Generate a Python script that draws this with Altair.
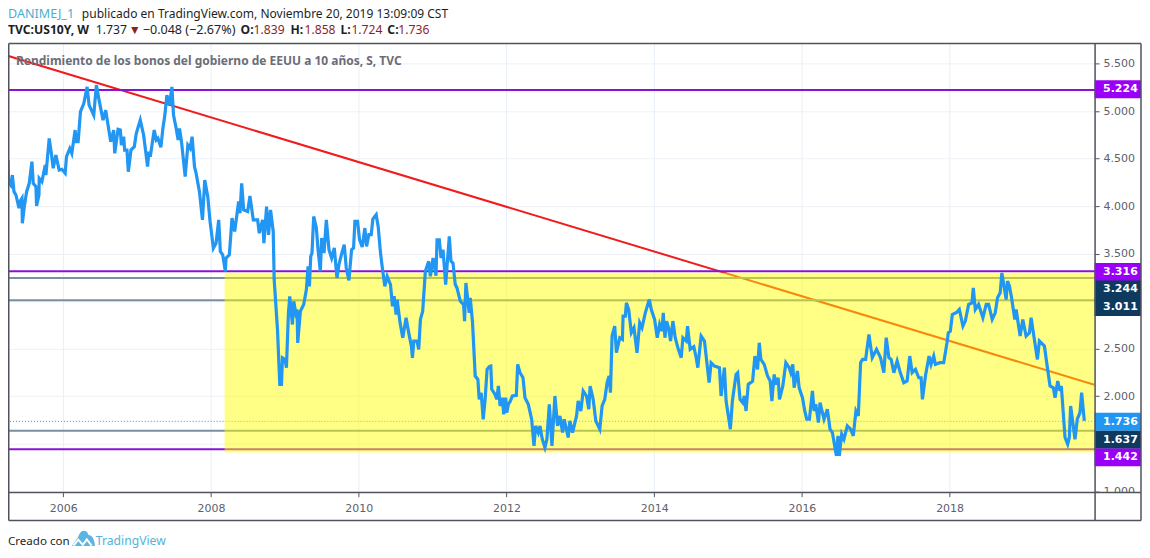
import altair as alt
import pandas as pd

# ---- series: decimal year / yield ----
years_a = [2005.252,2005.254,2005.256,2005.287,2005.310,2005.332,2005.359,2005.400,2005.413,2005.440,2005.445,2005.472,2005.503,2005.539,2005.575,2005.593,2005.629,2005.638,2005.670,2005.674,2005.710,2005.755,2005.764,2005.809,2005.841,2005.863,2005.899,2005.944,2005.980,2006.025,2006.043,2006.088,2006.115,2006.160,2006.178,2006.201,2006.232,2006.277,2006.322,2006.349,2006.412,2006.448,2006.484,2006.538,2006.574,2006.606,2006.642,2006.682,2006.696,2006.741,2006.772,2006.786,2006.817,2006.831,2006.862,2006.880,2006.916,2006.961,2006.988,2007.042,2007.087,2007.141,2007.159,2007.177,2007.231,2007.258,2007.281,2007.321,2007.348,2007.375,2007.402,2007.438,2007.470,2007.492,2007.528,2007.555,2007.573,2007.600,2007.650,2007.686,2007.717,2007.744,2007.776,2007.798,2007.843,2007.884,2007.915,2007.956,2007.987,2008.032,2008.068,2008.104,2008.126,2008.158,2008.194,2008.203,2008.248,2008.284,2008.320,2008.338,2008.374,2008.392,2008.415,2008.442,2008.496,2008.527,2008.572,2008.631,2008.653,2008.698,2008.716,2008.752,2008.779,2008.806,2008.842]
yields_a = [4.486,4.416,4.258,4.223,4.328,4.153,4.118,3.979,4.049,4.083,3.821,3.996,4.153,4.241,4.469,4.241,4.206,4.003,4.118,4.293,4.258,4.433,4.328,4.713,4.538,4.399,4.538,4.381,4.388,4.346,4.521,4.608,4.556,4.801,4.679,4.679,4.994,5.081,5.256,5.064,4.959,5.274,5.116,4.906,5.011,4.853,4.679,4.801,4.556,4.808,4.801,4.643,4.731,4.591,4.591,4.363,4.591,4.626,4.766,4.906,4.749,4.416,4.574,4.521,4.801,4.696,4.714,4.619,4.819,4.959,5.169,5.064,5.256,4.959,4.819,4.696,4.819,4.679,4.311,4.644,4.609,4.731,4.416,4.346,4.153,3.856,4.276,4.101,3.839,3.559,3.611,3.856,3.524,3.489,3.314,3.454,3.489,3.874,3.734,3.839,4.049,3.926,4.241,3.961,3.944,4.108,3.856,3.856,3.716,3.856,3.611,3.996,3.699,3.961,3.734]
years_b = [2008.855,2008.900,2008.931,2008.954,2008.967,2009.003,2009.021,2009.048,2009.066,2009.102,2009.120,2009.147,2009.165,2009.174,2009.210,2009.255,2009.291,2009.314,2009.332,2009.350,2009.367,2009.390,2009.426,2009.449,2009.480,2009.498,2009.530,2009.561,2009.597,2009.633,2009.669,2009.705,2009.732,2009.777,2009.804,2009.831,2009.867,2009.903,2009.930,2009.948,2009.984,2010.011,2010.047,2010.083,2010.106,2010.137,2010.169,2010.191,2010.236,2010.263,2010.295,2010.317,2010.353,2010.385,2010.430,2010.457,2010.479,2010.506,2010.520,2010.560,2010.596,2010.641,2010.677,2010.713,2010.727,2010.745,2010.790,2010.812,2010.835,2010.866,2010.902,2010.947,2010.970,2011.006,2011.046,2011.060,2011.091,2011.114,2011.141,2011.177,2011.226,2011.249,2011.276,2011.307,2011.330,2011.375,2011.420,2011.433,2011.451,2011.496,2011.510,2011.541,2011.577,2011.613,2011.631,2011.658,2011.685]
yields_b = [3.227,2.702,2.125,2.125,2.405,2.387,2.300,2.877,3.052,2.755,3.000,2.877,2.912,2.562,2.895,2.965,3.122,3.367,3.157,3.472,3.507,3.892,3.770,3.542,3.315,3.665,3.507,3.857,3.542,3.455,3.560,3.245,3.385,3.525,3.595,3.350,3.220,3.542,3.560,3.840,3.840,3.647,3.570,3.770,3.577,3.700,3.700,3.864,3.910,3.787,3.507,3.367,3.157,3.262,3.175,2.947,3.052,2.860,3.017,2.772,2.615,2.825,2.667,2.527,2.405,2.580,2.580,2.492,2.807,2.895,3.315,3.420,3.262,3.455,3.269,3.647,3.647,3.455,3.542,3.175,3.682,3.420,3.402,3.175,3.140,3.000,2.965,2.790,3.192,2.877,3.035,2.772,2.212,2.177,1.967,2.037,1.757]
years_c = [2011.711,2011.738,2011.765,2011.788,2011.801,2011.846,2011.869,2011.891,2011.914,2011.945,2011.963,2011.990,2012.004,2012.026,2012.053,2012.080,2012.134,2012.152,2012.184,2012.224,2012.251,2012.296,2012.341,2012.373,2012.395,2012.431,2012.454,2012.485,2012.521,2012.548,2012.580,2012.616,2012.656,2012.692,2012.724,2012.760,2012.782,2012.836,2012.859,2012.895,2012.949,2012.971,2013.007,2013.039,2013.084,2013.115,2013.133,2013.174,2013.210,2013.264,2013.295,2013.331,2013.363,2013.390,2013.408,2013.430,2013.466,2013.489,2013.534,2013.570,2013.579,2013.610,2013.624,2013.655,2013.691,2013.727,2013.768,2013.804,2013.835,2013.880,2013.934,2013.961,2014.006,2014.042,2014.074,2014.105,2014.123,2014.146,2014.168,2014.195,2014.222,2014.254,2014.285,2014.321,2014.366,2014.389,2014.434,2014.452,2014.488,2014.537,2014.569,2014.591,2014.636,2014.681,2014.744,2014.771,2014.816,2014.884,2014.906,2014.951,2014.974,2015.032,2015.059,2015.109,2015.131,2015.163,2015.199,2015.221,2015.244]
yields_c = [1.968,2.283,2.311,2.318,2.073,2.020,1.968,2.108,1.898,1.985,1.810,1.985,1.828,1.915,1.950,2.003,2.010,2.335,2.248,2.195,1.985,1.915,1.758,1.478,1.688,1.618,1.688,1.548,1.460,1.548,1.915,1.478,2.003,1.688,1.793,1.618,1.758,1.566,1.740,1.618,1.793,1.950,1.845,2.056,2.003,1.863,2.108,1.968,1.740,1.653,1.898,1.968,2.143,2.213,2.038,2.633,2.738,2.458,2.616,2.598,2.843,2.843,2.983,2.913,2.668,2.721,2.458,2.773,2.721,2.878,3.018,2.913,2.808,2.616,2.756,2.686,2.878,2.616,2.791,2.721,2.581,2.791,2.616,2.511,2.406,2.616,2.581,2.738,2.493,2.521,2.406,2.301,2.633,2.581,2.143,2.353,2.318,2.301,2.003,2.301,1.950,1.653,1.950,2.230,2.248,1.968,1.933,2.003,1.845]
years_d = [2015.274,2015.333,2015.364,2015.400,2015.423,2015.445,2015.490,2015.535,2015.571,2015.594,2015.625,2015.648,2015.679,2015.697,2015.742,2015.783,2015.828,2015.850,2015.877,2015.895,2015.940,2015.963,2016.008,2016.039,2016.066,2016.102,2016.143,2016.165,2016.188,2016.224,2016.246,2016.300,2016.345,2016.381,2016.413,2016.467,2016.489,2016.507,2016.539,2016.570,2016.615,2016.660,2016.696,2016.732,2016.764,2016.795,2016.822,2016.863,2016.908,2016.953,2017.011,2017.065,2017.110,2017.142,2017.178,2017.209,2017.245,2017.290,2017.326,2017.380,2017.425,2017.461,2017.493,2017.538,2017.583,2017.614,2017.632,2017.673,2017.722,2017.749,2017.785,2017.808,2017.866,2017.920,2017.965,2017.983,2018.010,2018.037,2018.100,2018.132,2018.181,2018.213,2018.258,2018.303,2018.321,2018.348,2018.393,2018.451,2018.496,2018.528,2018.577,2018.618,2018.649,2018.685,2018.708,2018.730,2018.766,2018.784,2018.811,2018.843,2018.883,2018.901,2018.955,2018.991,2019.036,2019.081,2019.104,2019.158,2019.189,2019.216,2019.284,2019.315,2019.360,2019.405,2019.428,2019.464,2019.495,2019.513,2019.563,2019.599,2019.621,2019.639,2019.666,2019.698,2019.729,2019.765,2019.788,2019.824]
yields_d = [2.125,2.160,2.423,2.283,2.563,2.388,2.335,2.213,2.160,1.950,2.230,2.125,2.195,1.968,2.108,2.353,2.301,2.248,2.335,2.090,2.266,2.090,1.985,1.845,1.758,1.758,2.056,1.845,1.915,1.723,1.933,1.758,1.863,1.653,1.618,1.373,1.583,1.373,1.601,1.548,1.688,1.653,1.583,1.845,1.793,2.353,2.388,2.388,2.651,2.406,2.493,2.406,2.248,2.616,2.406,2.388,2.248,2.371,2.266,2.143,2.160,2.423,2.248,2.283,2.195,2.195,1.968,2.213,2.423,2.335,2.423,2.335,2.353,2.353,2.563,2.668,2.686,2.860,2.885,2.913,2.738,2.791,2.966,2.983,3.141,2.913,2.966,2.826,2.966,2.966,2.808,2.878,3.036,3.088,3.298,3.193,3.018,3.211,3.158,3.018,2.808,2.913,2.633,2.808,2.633,2.668,2.826,2.546,2.388,2.581,2.528,2.353,2.108,2.090,1.985,2.160,2.056,2.108,1.566,1.496,1.566,1.898,1.740,1.548,1.758,1.828,2.038,1.740]

# ---- drawn levels ----
trend_years = [2005.23, 2019.96]
trend_yields = [5.587, 2.121]
purple_levels = [5.224, 3.316, 1.442]
gray_levels = [3.244, 3.011, 1.637]
last_price = [1.736]
box_years = [2008.184, 2019.97]
box_yields = [3.301, 1.409]
tag_labels = ["5.224", "3.316", "3.244", "3.011", "1.736", "1.637", "1.442"]
tag_mids = [5.23, 3.308, 3.124, 2.940, 1.732, 1.543, 1.357]
tag_kinds = ["p", "p", "n", "n", "b", "n", "p"]
x_ticks = [2006, 2008, 2010, 2012, 2014, 2016, 2018]
y_ticks = [1.0, 1.5, 2.0, 2.5, 3.0, 3.5, 4.0, 4.5, 5.0, 5.5]

PLOT_W, PLOT_H = 1089, 450
FULL_W = 1135       # right edge of outer frame, relative to plot left
FOOT_Y = 478        # bottom of outer frame, relative to plot top
AXIS_FONT = "DejaVu Sans"
HEAD_FONT = "Noto Sans"
FRAME = "#50535e"

x_scale = alt.Scale(domain=[2005.251, 2019.97], nice=False, zero=False)
y_scale = alt.Scale(domain=[0.986, 5.713], nice=False, zero=False)

x_axis = alt.Axis(
    values=x_ticks, format="d", grid=True, gridColor="#e8eff7", gridWidth=1, domain=False,
    tickColor=FRAME, tickSize=4, labelColor="#5d606b", labelFont=AXIS_FONT, labelFontSize=11,
    labelPadding=6, labelOverlap=False, labelFlush=False)
# the 1.500 and 3.000 scale labels sit behind price tags in the reference
y_axis = alt.Axis(
    orient="right", values=y_ticks, grid=True, gridColor="#edf1f6", gridWidth=1,
    labelExpr="datum.value == 1.5 || datum.value == 3 ? '' : format(datum.value, '.3f')",
    domain=False, tickColor=FRAME, tickSize=4, labelColor="#5d606b", labelFont=AXIS_FONT,
    labelFontSize=11, labelPadding=4, labelOverlap=False, labelFlush=False)

def X(field="x"):
    return alt.X(f"{field}:Q", scale=x_scale, axis=x_axis, title=None)

def Y(field="y"):
    return alt.Y(f"{field}:Q", scale=y_scale, axis=y_axis, title=None)

one = pd.DataFrame({"a": [0]})

trend = alt.Chart(pd.DataFrame({"x": trend_years, "y": trend_yields})).mark_line(
    color="#f01c1c", strokeWidth=2, clip=True).encode(x=X(), y=Y())

purple = alt.Chart(pd.DataFrame({"y": purple_levels})).mark_rule(color="#8a12d6", strokeWidth=2).encode(y=Y())
grays = alt.Chart(pd.DataFrame({"y": gray_levels})).mark_rule(color="#7b8f9e", strokeWidth=2).encode(y=Y())
dotted = alt.Chart(pd.DataFrame({"y": last_price})).mark_rule(
    color="#2196f3", strokeWidth=1, strokeDash=[1, 2]).encode(y=Y())

box = alt.Chart(pd.DataFrame({"x": box_years[:1], "x2": box_years[1:], "y": box_yields[:1], "y2": box_yields[1:]})).mark_rect(
    color="#ffff00", opacity=0.48).encode(x=X(), x2="x2:Q", y=Y(), y2="y2:Q")

series = pd.DataFrame({"x": years_a + years_b + years_c + years_d,
                       "y": yields_a + yields_b + yields_c + yields_d})
line = alt.Chart(series).mark_line(color="#2196f3", strokeWidth=3.2, clip=True, strokeJoin="miter").encode(
    x=X(), y=Y())

# price tags on the scale
tag_half = 0.0945
tags_df = pd.DataFrame({"label": tag_labels, "y": tag_mids, "kind": tag_kinds})
tags_df["top"] = tags_df["y"] + tag_half
tags_df["bottom"] = tags_df["y"] - tag_half
kind_scale = alt.Scale(domain=["p", "n", "b"], range=["#9900f5", "#0e3a5f", "#2196f3"])
tag_rect = alt.Chart(tags_df).mark_rect().encode(
    x=alt.value(PLOT_W - 0.5), x2=alt.value(FULL_W),
    y=Y("top"), y2="bottom:Q",
    color=alt.Color("kind:N", scale=kind_scale, legend=None))
tag_text = alt.Chart(tags_df).mark_text(
    align="left", baseline="middle", color="#ffffff", font=AXIS_FONT, fontSize=11, fontWeight="bold"
).encode(x=alt.value(PLOT_W + 8), y=Y(), text="label:N")

# hides the lower half of the "1.000" scale label
mask = alt.Chart(one).mark_rect(color="#ffffff").encode(
    x=alt.value(PLOT_W), x2=alt.value(FULL_W), y=alt.value(PLOT_H), y2=alt.value(FOOT_Y))

def rule(x1, y1, x2, y2):
    return alt.Chart(one).mark_rule(color=FRAME, strokeWidth=1.5).encode(
        x=alt.value(x1), x2=alt.value(x2), y=alt.value(y1), y2=alt.value(y2))

frame = [
    rule(0.75, 0, FULL_W, 0),
    rule(0.75, PLOT_H, FULL_W, PLOT_H),
    rule(0.75, FOOT_Y, FULL_W, FOOT_Y),
    rule(0.75, 0, 0.75, FOOT_Y),
    rule(PLOT_W, 0, PLOT_W, FOOT_Y),
    rule(FULL_W, 0, FULL_W, FOOT_Y),
]

def label(text, x, y, color="#1c1f26", bold=False, size=12.2):
    # x and y are page pixels
    return alt.Chart(one).mark_text(
        align="left", baseline="alphabetic", font=HEAD_FONT, fontSize=size, color=color,
        fontWeight="bold" if bold else "normal"
    ).encode(x=alt.value(x - 8), y=alt.value(y - 43), text=alt.value(text))

RED = "#8c1f1f"
texts = [
    label("DANIMEJ_1", 8, 18, color="#4aaed0", size=12.6),
    label("publicado en TradingView.com, Noviembre 20, 2019 13:09:09 CST", 82, 18, size=12.05),
    label("TVC:US10Y, W", 8, 34, bold=True),
    label("1.737", 96, 34),
    label("▼", 129, 34, color=RED),
    label("−0.048 (−2.67%)", 143, 34, size=12.6),
    label("O:", 241, 34, bold=True),
    label("1.839", 254, 34, color=RED),
    label("H:", 291, 34, bold=True),
    label("1.858", 305, 34, color=RED),
    label("L:", 341, 34, bold=True),
    label("1.724", 352, 34, color=RED),
    label("C:", 388, 34, bold=True),
    label("1.736", 399, 34, color=RED),
    label("Rendimiento de los bonos del gobierno de EEUU a 10 años, S, TVC", 16, 65, color="#6a6d78", bold=True, size=12),
    label("Creado con", 8, 545, size=11.6),
    label("TradingView", 96, 545, color="#55b2d8"),
]

# logo next to the footer word
CLOUD = "M-1,0.65 L-0.42,-0.2 C-0.3,-0.8 0.32,-0.85 0.45,-0.3 C0.8,-0.3 1,0.2 1,0.65 Z"
ZIGZAG = "M-0.85,0.62 L-0.45,0.1 L-0.05,0.55 L0.3,0.08 L0.72,0.62"
logo_cloud = alt.Chart(one).mark_point(
    shape=CLOUD, size=529, filled=True, color="#5ab6e0", opacity=1, strokeWidth=0
).encode(x=alt.value(83.5 - 8), y=alt.value(539 - 43))
logo_zig = alt.Chart(one).mark_point(
    shape=ZIGZAG, size=529, filled=False, color="#ffffff", opacity=1, strokeWidth=2
).encode(x=alt.value(83.5 - 8), y=alt.value(539 - 43))

chart = alt.layer(
    trend, purple, grays, dotted, box, line, tag_rect, tag_text, mask, *frame, *texts, logo_cloud, logo_zig
).properties(
    width=PLOT_W, height=PLOT_H,
    padding={"left": 0, "top": 35, "right": 47, "bottom": 55},
    autosize=alt.AutoSizeParams(type="none"),
    background="#ffffff",
).configure_view(stroke=None)

chart.save("out.html", embed_options={"renderer": "svg", "actions": False})
